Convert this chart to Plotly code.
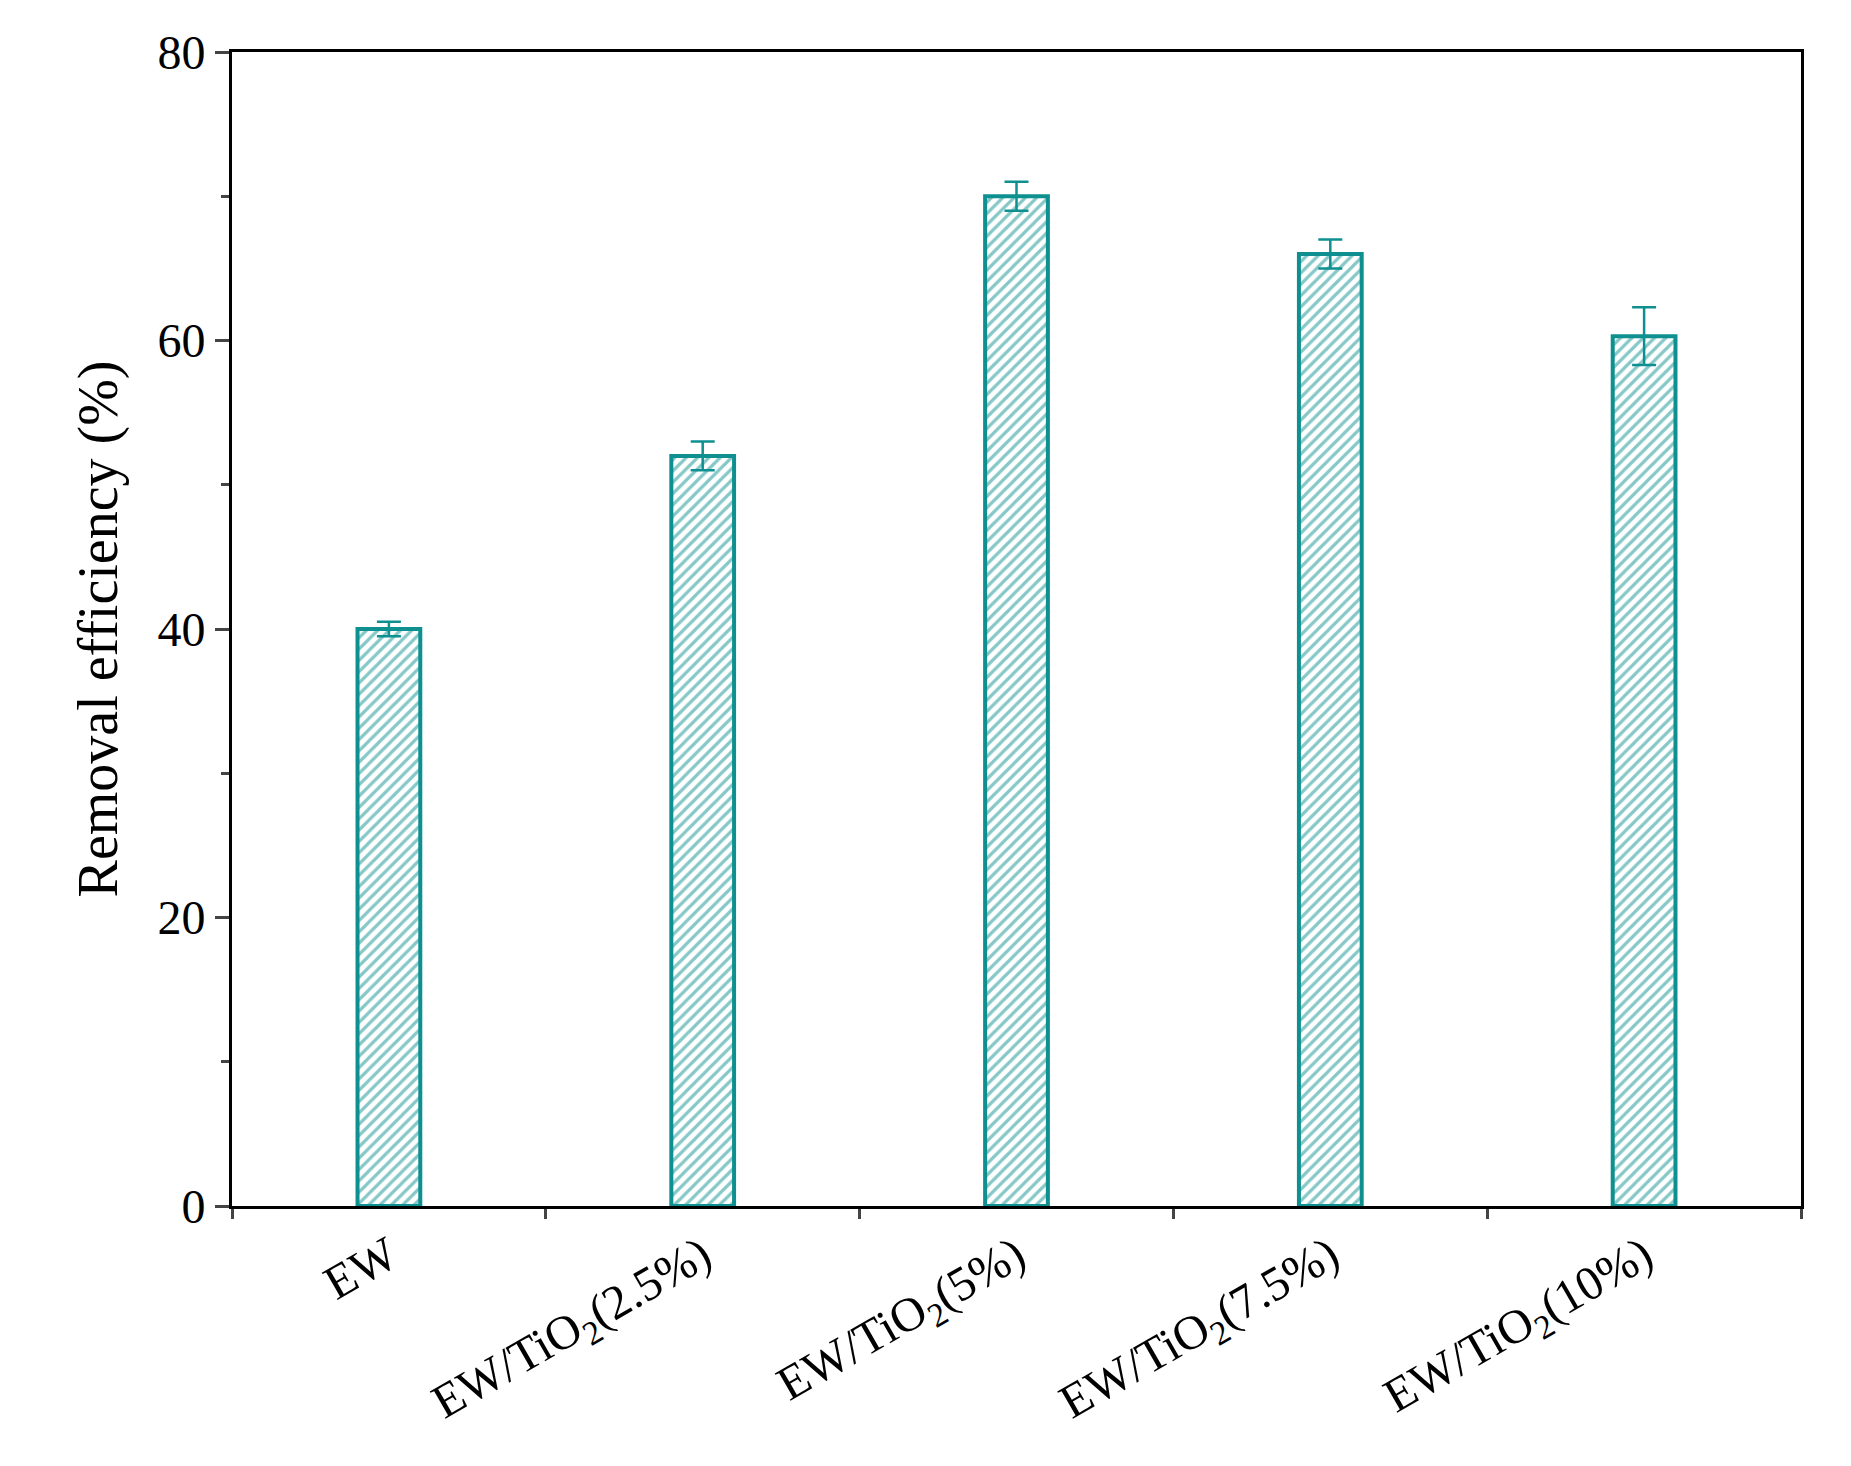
import plotly.graph_objects as go

categories = ["EW", "EW/TiO<sub>2</sub>(2.5%)", "EW/TiO<sub>2</sub>(5%)", "EW/TiO<sub>2</sub>(7.5%)", "EW/TiO<sub>2</sub>(10%)"]
values = [40.0, 52.0, 70.0, 66.0, 60.3]
errors = [0.5, 1.0, 1.0, 1.0, 2.0]

teal = "#0E9090"
fig = go.Figure(go.Bar(
    x=categories, y=values, width=0.2,
    marker=dict(color="white", line=dict(color=teal, width=4),
                pattern=dict(shape="/", fgcolor=teal, bgcolor="white", size=8, solidity=0.4)),
    error_y=dict(type="data", array=errors, color=teal, thickness=2.5, width=12),
))
fig.update_layout(
    width=1851, height=1466, plot_bgcolor="white", paper_bgcolor="white",
    margin=dict(l=224, r=58, t=44, b=268), showlegend=False,
    font=dict(family="Liberation Serif", size=48, color="black"),
)
fig.update_xaxes(showline=True, linecolor="black", linewidth=3, mirror=True,
                 ticks="outside", tickson="boundaries", ticklen=10, tickwidth=3,
                 tickangle=-30, tickfont=dict(size=48))
fig.update_yaxes(range=[0, 80], dtick=20, showline=True, linecolor="black", linewidth=3,
                 mirror=True, ticks="outside", ticklen=14, tickwidth=3, showgrid=False,
                 minor=dict(dtick=10, ticks="outside", ticklen=8, tickwidth=3),
                 zeroline=False, tickfont=dict(size=48),
                 title=dict(text="Removal efficiency (%)", font=dict(size=56), standoff=22))
fig.write_html("out.html")
